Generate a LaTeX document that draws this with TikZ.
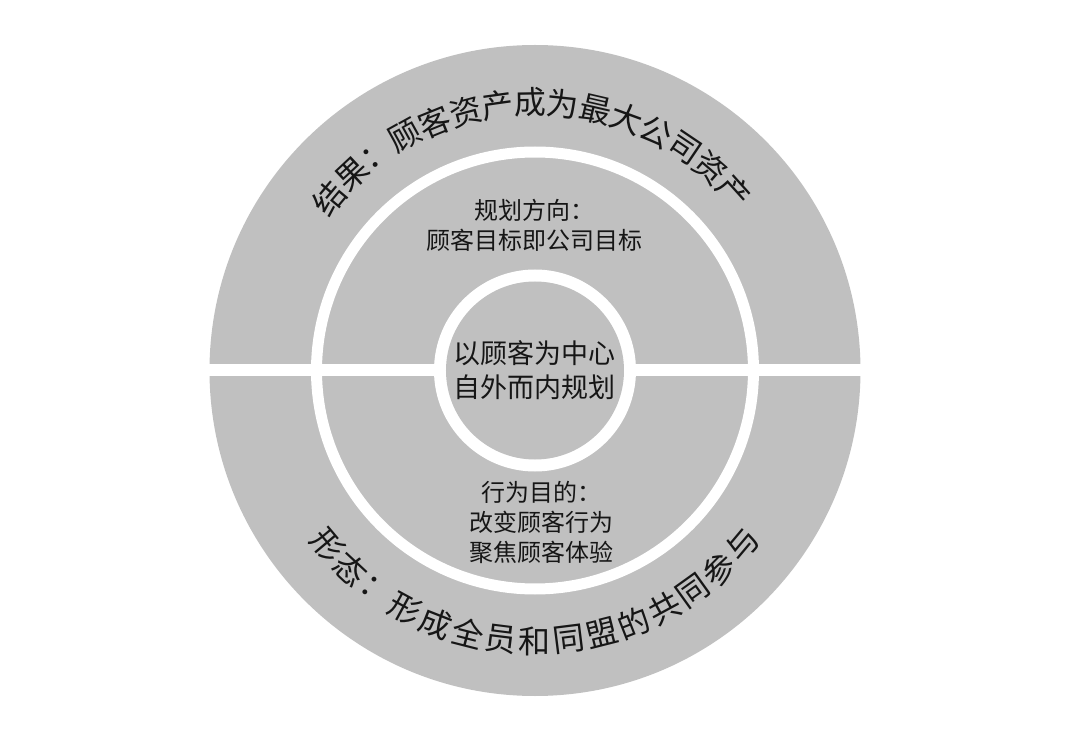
\documentclass[tikz,border=0pt]{standalone}
\usepackage{fontspec}
\newfontfamily\cjk{Noto Sans CJK SC}
\definecolor{ringgray}{RGB}{192,192,192}
\definecolor{ink}{RGB}{22,22,22}

\begin{document}
\begin{tikzpicture}
      [ x=1pt, y=1pt,
        disc/.style={fill=ringgray},
        gap/.style={fill=white},
        mid text/.style={align=center, text=ink, font=\cjk\fontsize{24}{30}\selectfont},
        core text/.style={align=center, text=ink, font=\cjk\fontsize{27}{34}\selectfont},
        arc char/.style={inner sep=0pt, text=ink, font=\cjk\fontsize{32}{32}\selectfont}
      ]
      \useasboundingbox (-535,-376.5) rectangle (545,370.5);
      % rings and the white band
      \fill[disc] (0,0) circle (325.5);
      \draw[white, line width=11] (0,0) circle (218.5);
      \fill[gap] (-327,-6) rectangle (327,6);
      \fill[gap] (0,0) circle (101);
      \fill[disc] (0,0) circle (89);

      \node[core text]  (core)      at (0,0.5)   {以顾客为中心\\自外而内规划};
      \node[mid text]   (direction) at (0,145)   {规划方向：\\顾客目标即公司目标};
      \node[mid text]   (behavior)  at (7,-152)  {行为目的：\\改变顾客行为\\聚焦顾客体验};

      % curved labels in the outer ring, one character at a time
      \foreach \ch [count=\i] in {结,果,：,顾,客,资,产,成,为,最,大,公,司,资,产}
        {\pgfmathsetmacro\a{140-(\i-1)*7}
         \node[arc char, rotate=\a-90] (result-\i) at (\a:268) {\ch};}
      \foreach \ch [count=\i] in {形,态,：,形,成,全,员,和,同,盟,的,共,同,参,与}
        {\pgfmathsetmacro\a{220+(\i-1)*7.14}
         \node[arc char, rotate=\a+90] (form-\i) at (\a:271) {\ch};}
\end{tikzpicture}
\end{document}
